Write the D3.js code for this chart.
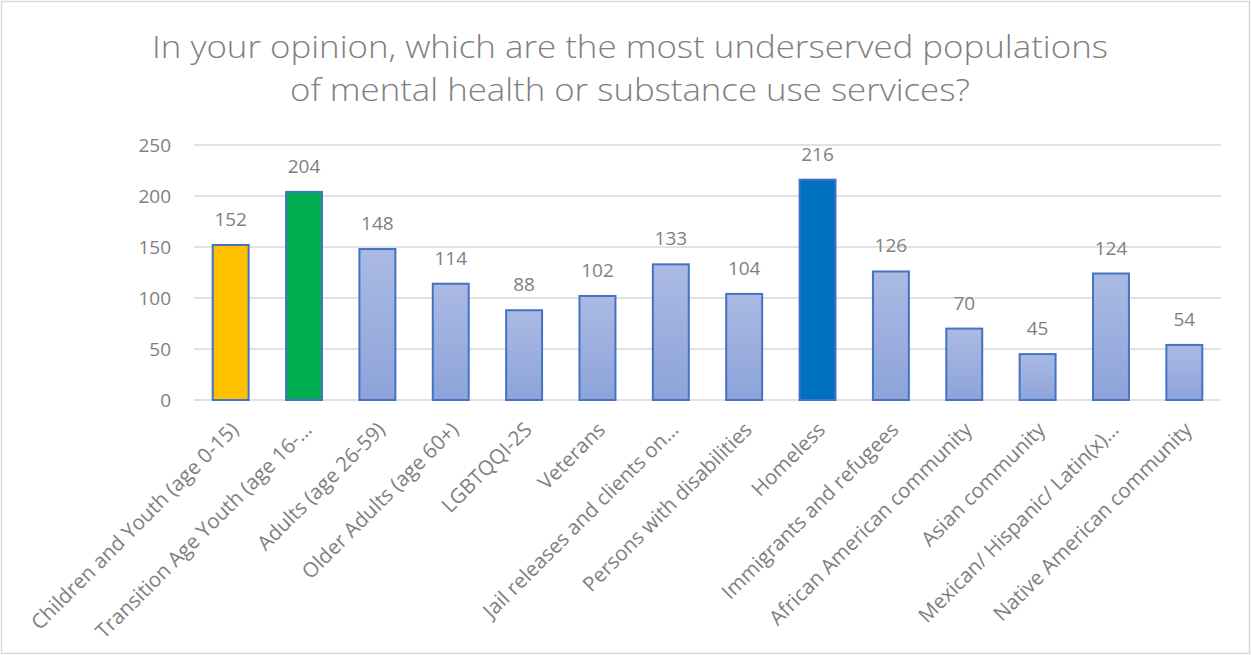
<!DOCTYPE html>
<html>
<head>
<meta charset="utf-8">
<script src="https://cdn.jsdelivr.net/npm/d3@7"></script>
<style>
  html, body { margin: 0; padding: 0; background: #fff; }
  svg { display: block; }
  text { font-family: "Open Sans", "Noto Sans", sans-serif; fill: #7f7f7f; }
</style>
</head>
<body>
<svg id="chart" width="1251" height="655"></svg>
<script>
const titleLines = [
  "In your opinion, which are the most underserved populations",
  "of mental health or substance use services?"
];
const categories = [
  "Children and Youth (age 0-15)",
  "Transition Age Youth (age 16-…",
  "Adults (age 26-59)",
  "Older Adults (age 60+)",
  "LGBTQQI-2S",
  "Veterans",
  "Jail releases and clients on…",
  "Persons with disabilities",
  "Homeless",
  "Immigrants and refugees",
  "African American community",
  "Asian community",
  "Mexican/ Hispanic/ Latin(x)…",
  "Native American community"
];
const values = [152, 204, 148, 114, 88, 102, 133, 104, 216, 126, 70, 45, 124, 54];
const yTicks = [0, 50, 100, 150, 200, 250];
// highlighted categories get a solid fill; the rest use the soft blue gradient
const highlightFill = {
  "Children and Youth (age 0-15)": "#FFC000",
  "Transition Age Youth (age 16-…": "#00B050",
  "Homeless": "#0070C0"
};

const W = 1251, H = 655;
const margin = { top: 145, right: 30, bottom: 255, left: 194 };
const svg = d3.select("#chart");

// outer chart frame
svg.append("rect")
  .attr("x", 1.5).attr("y", 1.5)
  .attr("width", W - 3).attr("height", H - 3)
  .attr("fill", "#fff").attr("stroke", "#d9d9d9").attr("stroke-width", 1.5);

const defs = svg.append("defs");
const grad = defs.append("linearGradient")
  .attr("id", "barGrad").attr("x1", 0).attr("y1", 0).attr("x2", 0).attr("y2", 1);
grad.append("stop").attr("offset", "0%").attr("stop-color", "#AABAE3");
grad.append("stop").attr("offset", "100%").attr("stop-color", "#8DA3DA");

const x = d3.scaleBand()
  .domain(categories)
  .range([margin.left, W - margin.right])
  .paddingInner(0.51)
  .paddingOuter(0.255);

const y = d3.scaleLinear()
  .domain([0, 250])
  .range([H - margin.bottom, margin.top]);

// two-line title, each line fitted to its width
const titleWidths = [956, 680];
const titleY = [58, 101];
titleLines.forEach((t, i) => {
  svg.append("text")
    .attr("x", 630).attr("y", titleY[i])
    .attr("text-anchor", "middle")
    .style("font-size", "31px")
    .style("font-weight", 300)
    .attr("textLength", titleWidths[i])
    .attr("lengthAdjust", "spacingAndGlyphs")
    .text(t);
});

// gridlines
svg.append("g")
  .selectAll("line")
  .data(yTicks)
  .join("line")
  .attr("x1", margin.left).attr("x2", W - margin.right)
  .attr("y1", d => y(d)).attr("y2", d => y(d))
  .attr("stroke", "#d9d9d9").attr("stroke-width", 1.5);

// y axis labels
const yAxis = d3.axisLeft(y).tickValues(yTicks).tickSize(0).tickPadding(0);
const gy = svg.append("g")
  .attr("transform", `translate(${margin.left - 23},0)`)
  .call(yAxis);
gy.select(".domain").remove();
gy.selectAll("text")
  .style("font-family", '"Open Sans", "Noto Sans", sans-serif')
  .style("font-size", "19px")
  .attr("fill", "#7f7f7f");

// bars
svg.append("g")
  .selectAll("rect")
  .data(categories)
  .join("rect")
  .attr("x", d => x(d))
  .attr("width", x.bandwidth())
  .attr("y", (d, i) => y(values[i]))
  .attr("height", (d, i) => y(0) - y(values[i]))
  .attr("fill", d => highlightFill[d] || "url(#barGrad)")
  .attr("stroke", "#4472C4")
  .attr("stroke-width", 2);

// value labels
svg.append("g")
  .selectAll("text")
  .data(categories)
  .join("text")
  .attr("x", d => x(d) + x.bandwidth() / 2)
  .attr("y", (d, i) => y(values[i]) - 19)
  .attr("text-anchor", "middle")
  .style("font-size", "19px")
  .text((d, i) => values[i]);

// x axis labels, rotated 45 degrees
const xAxis = d3.axisBottom(x).tickSize(0).tickPadding(0);
const gx = svg.append("g")
  .attr("transform", `translate(0,${y(0)})`)
  .call(xAxis);
gx.select(".domain").remove();
gx.selectAll("text")
  .style("font-family", '"Open Sans", "Noto Sans", sans-serif')
  .style("font-size", "20.5px")
  .attr("fill", "#7f7f7f")
  .attr("text-anchor", "end")
  .attr("dy", null)
  .attr("y", 0)
  .attr("transform", "translate(9,31) rotate(-45)");
</script>
</body>
</html>
